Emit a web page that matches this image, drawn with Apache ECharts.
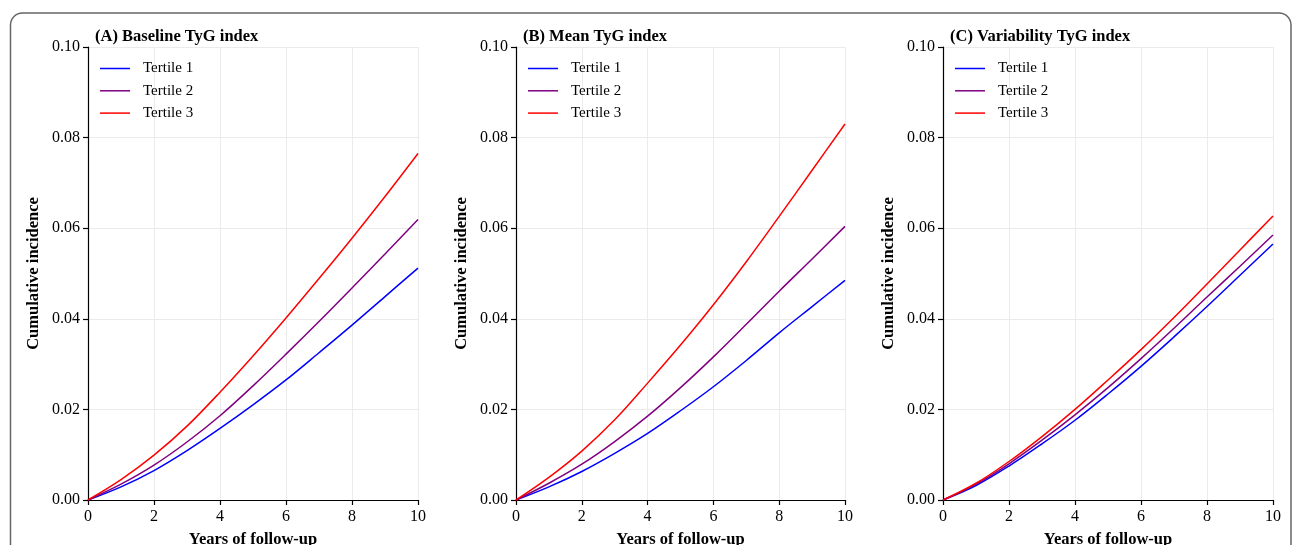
<!DOCTYPE html>
<html>
<head>
<meta charset="utf-8">
<script src="https://cdn.jsdelivr.net/npm/echarts@6/dist/echarts.min.js"></script>
<style>
html,body{margin:0;padding:0;background:#fff;}
#chart{width:1292px;height:545px;}
</style>
</head>
<body>
<div id="chart"></div>
<script>
var years = [0, 1, 2, 3, 4, 5, 6, 7, 8, 9, 10];
var panelTitles = ['(A) Baseline TyG index', '(B) Mean TyG index', '(C) Variability TyG index'];
var seriesNames = ['Tertile 1', 'Tertile 2', 'Tertile 3'];
var seriesColors = ['#0000FF', '#800080', '#FF0000'];
var yTicks = [0, 0.02, 0.04, 0.06, 0.08, 0.10];
var xTicks = [0, 2, 4, 6, 8, 10];

// Panel A: Baseline TyG index
var aT1 = [0, 0.0029, 0.0065, 0.0109, 0.0158, 0.0210, 0.0265, 0.0325, 0.0386, 0.0449, 0.0512];
var aT2 = [0, 0.0035, 0.0077, 0.0128, 0.0186, 0.0252, 0.0322, 0.0394, 0.0468, 0.0543, 0.0619];
var aT3 = [0, 0.0045, 0.0099, 0.0163, 0.0238, 0.0318, 0.0402, 0.0489, 0.0578, 0.0670, 0.0765];
// Panel B: Mean TyG index
var bT1 = [0, 0.0029, 0.0063, 0.0103, 0.0147, 0.0197, 0.0250, 0.0308, 0.0369, 0.0427, 0.0485];
var bT2 = [0, 0.0037, 0.0079, 0.0129, 0.0185, 0.0248, 0.0316, 0.0388, 0.0461, 0.0532, 0.0604];
var bT3 = [0, 0.0050, 0.0108, 0.0177, 0.0258, 0.0342, 0.0431, 0.0526, 0.0626, 0.0728, 0.0830];
// Panel C: Variability TyG index
var cT1 = [0, 0.0032, 0.0075, 0.0124, 0.0176, 0.0234, 0.0295, 0.0360, 0.0427, 0.0496, 0.0565];
var cT2 = [0, 0.0035, 0.0080, 0.0132, 0.0188, 0.0248, 0.0312, 0.0379, 0.0448, 0.0516, 0.0585];
var cT3 = [0, 0.0037, 0.0085, 0.0140, 0.0200, 0.0265, 0.0332, 0.0403, 0.0477, 0.0552, 0.0627];

var panels = [[aT1, aT2, aT3], [bT1, bT2, bT3], [cT1, cT2, cT3]];

var FONT = 'Liberation Serif';
var lefts = [88, 516, 943];
var widths = [330, 329, 330];

var option = {
  animation: false,
  backgroundColor: '#fff',
  textStyle: {fontFamily: FONT},
  title: [], grid: [], xAxis: [], yAxis: [], legend: [], series: [],
  graphic: [{
    type: 'rect',
    shape: {x: 10.5, y: 13, width: 1280.5, height: 600, r: 12},
    style: {fill: 'none', stroke: '#666', lineWidth: 1.5},
    silent: true
  }]
};

panels.forEach(function (p, i) {
  option.title.push({
    text: panelTitles[i],
    left: lefts[i] + 2, top: 23,
    textStyle: {fontFamily: FONT, fontWeight: 'bold', fontSize: 16.5, color: '#000'}
  });
  option.grid.push({left: lefts[i], top: 47, width: widths[i], height: 453,
    containLabel: false, outerBoundsMode: 'none'});
  option.xAxis.push({
    type: 'value', gridIndex: i, min: 0, max: 10, interval: 2,
    name: 'Years of follow-up', nameLocation: 'middle', nameGap: 31,
    nameTextStyle: {fontFamily: FONT, fontWeight: 'bold', fontSize: 16.5, color: '#000'},
    axisLine: {show: true, onZero: false, lineStyle: {color: '#000', width: 1.2}},
    axisTick: {show: true, length: 5, lineStyle: {color: '#000', width: 1.2}},
    axisLabel: {fontFamily: FONT, fontSize: 16, color: '#000', margin: 9,
      formatter: function (v) { return xTicks.indexOf(v) >= 0 ? String(v) : ''; }},
    splitLine: {show: true, lineStyle: {color: '#ebebeb', width: 1}}
  });
  option.yAxis.push({
    type: 'value', gridIndex: i, min: 0, max: 0.1, interval: 0.02,
    name: 'Cumulative incidence', nameLocation: 'middle', nameGap: 46,
    nameTextStyle: {fontFamily: FONT, fontWeight: 'bold', fontSize: 16.5, color: '#000'},
    axisLine: {show: true, lineStyle: {color: '#000', width: 1.2}},
    axisTick: {show: true, length: 5, lineStyle: {color: '#000', width: 1.2}},
    axisLabel: {fontFamily: FONT, fontSize: 16, color: '#000', margin: 8,
      formatter: function (v) { return v.toFixed(2); }},
    splitLine: {show: true, lineStyle: {color: '#ebebeb', width: 1}}
  });
  var names = [];
  p.forEach(function (vals, k) {
    names.push({name: seriesNames[k] + '\u200b'.repeat(i)});
    option.series.push({
      type: 'line', name: seriesNames[k] + '\u200b'.repeat(i),
      xAxisIndex: i, yAxisIndex: i,
      data: years.map(function (y, j) { return [y, vals[j]]; }),
      smooth: 0.35, symbol: 'none', showSymbol: false,
      lineStyle: {color: seriesColors[k], width: 1.5},
      itemStyle: {color: seriesColors[k]},
      z: 3 + k
    });
  });
  option.legend.push({
    data: names, orient: 'vertical', left: lefts[i] + 7, top: 56,
    icon: 'rect', itemWidth: 30, itemHeight: 1.5, itemGap: 7.3,
    textStyle: {fontFamily: FONT, fontSize: 15, color: '#000', padding: [0, 0, 0, 8]}
  });
});

var chart = echarts.init(document.getElementById('chart'), null, {renderer: 'canvas'});
chart.setOption(option);
</script>
</body>
</html>
